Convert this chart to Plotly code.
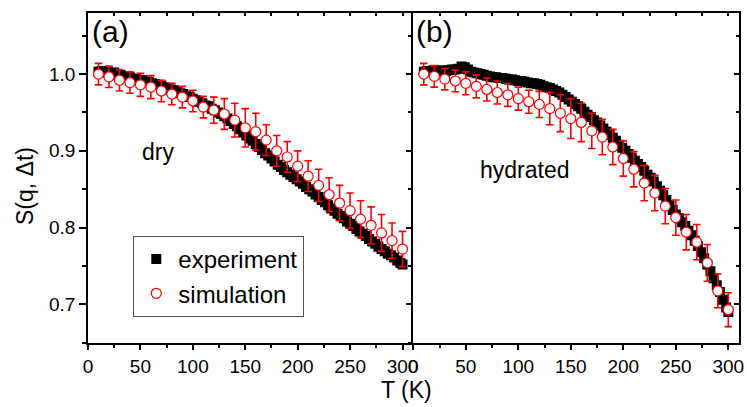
import plotly.graph_objects as go

# ---------------- data ----------------
T_exp = [10, 13, 16, 19, 22, 25, 28, 31, 34, 37, 40, 43, 46, 49, 52, 55, 58, 61, 64, 67,
         70, 73, 76, 79, 82, 85, 88, 91, 94, 97, 100, 103, 106, 109, 112, 115, 118, 121, 124, 127,
         130, 133, 136, 139, 142, 145, 148, 151, 154, 157, 160, 163, 166, 169, 172, 175, 178, 181, 184, 187,
         190, 193, 196, 199, 202, 205, 208, 211, 214, 217, 220, 223, 226, 229, 232, 235, 238, 241, 244, 247,
         250, 253, 256, 259, 262, 265, 268, 271, 274, 277, 280, 283, 286, 289, 292, 295, 298, 300]

exp_dry = [1.003, 1.004, 1.002, 1.003, 1.001, 1.002, 0.999, 0.999, 0.997, 0.997,
           0.996, 0.994, 0.994, 0.992, 0.992, 0.990, 0.990, 0.988, 0.987, 0.986,
           0.985, 0.983, 0.982, 0.980, 0.979, 0.977, 0.975, 0.974, 0.971, 0.970,
           0.968, 0.966, 0.964, 0.962, 0.959, 0.958, 0.955, 0.953, 0.950, 0.948,
           0.945, 0.942, 0.939, 0.935, 0.932, 0.928, 0.924, 0.920, 0.916, 0.913,
           0.909, 0.905, 0.901, 0.897, 0.894, 0.890, 0.886, 0.882, 0.879, 0.875,
           0.872, 0.869, 0.866, 0.863, 0.860, 0.857, 0.853, 0.850, 0.847, 0.843,
           0.840, 0.836, 0.833, 0.829, 0.825, 0.822, 0.818, 0.815, 0.812, 0.808,
           0.805, 0.802, 0.798, 0.795, 0.792, 0.789, 0.785, 0.782, 0.779, 0.775,
           0.772, 0.769, 0.766, 0.764, 0.761, 0.757, 0.754, 0.752]

exp_hyd = [1.003, 1.004, 1.003, 1.005, 1.004, 1.003, 1.005, 1.004, 1.005, 1.006,
           1.006, 1.007, 1.010, 1.009, 1.006, 1.003, 1.002, 1.001, 1.000, 0.999,
           0.998, 0.997, 0.996, 0.996, 0.995, 0.995, 0.994, 0.993, 0.993, 0.992,
           0.991, 0.991, 0.990, 0.989, 0.988, 0.988, 0.987, 0.986, 0.984, 0.983,
           0.982, 0.980, 0.978, 0.976, 0.973, 0.970, 0.967, 0.964, 0.961, 0.958,
           0.955, 0.951, 0.947, 0.944, 0.940, 0.937, 0.933, 0.929, 0.925, 0.921,
           0.917, 0.913, 0.908, 0.904, 0.900, 0.896, 0.891, 0.887, 0.883, 0.879,
           0.874, 0.869, 0.865, 0.860, 0.854, 0.848, 0.842, 0.836, 0.829, 0.823,
           0.817, 0.812, 0.807, 0.802, 0.796, 0.790, 0.783, 0.776, 0.768, 0.760,
           0.752, 0.743, 0.734, 0.725, 0.716, 0.706, 0.696, 0.690]

T_sim = [10, 20, 30, 40, 50, 60, 70, 80, 90, 100, 110, 120, 130, 140, 150,
         160, 170, 180, 190, 200, 210, 220, 230, 240, 250, 260, 270, 280, 290, 300]

sim_dry = [1.000, 0.9965, 0.992, 0.989, 0.986, 0.983, 0.978, 0.974, 0.970, 0.965,
           0.957, 0.953, 0.948, 0.940, 0.930, 0.925, 0.914, 0.900, 0.892, 0.880,
           0.867, 0.855, 0.843, 0.832, 0.822, 0.811, 0.803, 0.793, 0.783, 0.772]
err_dry = [0.014, 0.014, 0.014, 0.014, 0.015, 0.015, 0.014, 0.014, 0.014, 0.014,
           0.014, 0.017, 0.020, 0.022, 0.025, 0.024, 0.020, 0.020, 0.020, 0.020,
           0.020, 0.021, 0.022, 0.023, 0.023, 0.024, 0.024, 0.024, 0.023, 0.023]

sim_hyd = [1.000, 0.997, 0.9935, 0.991, 0.988, 0.984, 0.980, 0.976, 0.973, 0.968,
           0.964, 0.9605, 0.955, 0.949, 0.942, 0.937, 0.926, 0.918, 0.905, 0.890,
           0.876, 0.858, 0.845, 0.828, 0.813, 0.794, 0.781, 0.754, 0.7175, 0.693]
err_hyd = [0.014, 0.014, 0.014, 0.014, 0.015, 0.015, 0.015, 0.015, 0.015, 0.015,
           0.015, 0.017, 0.021, 0.024, 0.026, 0.025, 0.023, 0.023, 0.023, 0.023,
           0.023, 0.023, 0.023, 0.023, 0.023, 0.023, 0.023, 0.024, 0.022, 0.022]

x_ticks = [0, 50, 100, 150, 200, 250, 300]
y_ticks = [0.7, 0.8, 0.9, 1.0]

# ---------------- figure ----------------
W, H = 747, 407
FONT = "Liberation Sans, Arial, sans-serif"

def px(x):
    return x / W

def py(y):
    return 1 - y / H

fig = go.Figure()

sq = dict(symbol="square", size=10, color="black", line=dict(width=0))
circ = dict(symbol="circle", size=10, color="white", line=dict(color="red", width=1.2))
eb = lambda arr: dict(type="data", array=arr, color="red", thickness=1.6, width=3.8)

fig.add_trace(go.Scatter(x=T_exp, y=exp_dry, mode="markers", marker=sq, name="experiment",
                         xaxis="x", yaxis="y", showlegend=True))
fig.add_trace(go.Scatter(x=T_sim, y=sim_dry, mode="markers", marker=circ, error_y=eb(err_dry),
                         name="simulation", xaxis="x", yaxis="y", showlegend=True))
fig.add_trace(go.Scatter(x=T_exp, y=exp_hyd, mode="markers", marker=sq, name="experiment",
                         xaxis="x2", yaxis="y2", showlegend=False))
fig.add_trace(go.Scatter(x=T_sim, y=sim_hyd, mode="markers", marker=circ, error_y=eb(err_hyd),
                         name="simulation", xaxis="x2", yaxis="y2", showlegend=False))

# empty traces so overlay (mirror) axes get drawn
for xa, ya in [("x3", "y"), ("x4", "y2"), ("x2", "y4")]:
    fig.add_trace(go.Scatter(x=[], y=[], xaxis=xa, yaxis=ya, showlegend=False, hoverinfo="skip"))

xdomA = [px(88), px(413)]
xdomB = [px(413.3), px(738.8)]
ydom = [py(342.7), py(12.7)]
xr = [0, 310]
yr = [0.65, 1.08]

tickfont = dict(family=FONT, size=19, color="black")
base_line = dict(showline=True, linecolor="black", linewidth=1.5, showgrid=False, zeroline=False,
                 automargin=False)

def xaxis_main(domain, anchor):
    return dict(domain=domain, anchor=anchor, range=xr, tickmode="array", tickvals=x_ticks,
                ticks="outside", ticklen=6, tickwidth=1.5, tickcolor="black", tickfont=tickfont,
                minor=dict(dtick=25, tick0=0, ticks="outside", ticklen=3.5, tickwidth=1.5, tickcolor="black"),
                **base_line)

def xaxis_top(over, anchor):
    return dict(overlaying=over, anchor=anchor, side="top", range=xr, tickmode="array", tickvals=x_ticks,
                ticks="inside", ticklen=4, tickwidth=1.5, tickcolor="black", showticklabels=False,
                minor=dict(dtick=25, tick0=0, ticks="inside", ticklen=4, tickwidth=1.5, tickcolor="black"),
                **base_line)

fig.update_layout(
    template="none",
    width=W, height=H, autosize=False,
    margin=dict(l=0, r=0, t=0, b=0, pad=0),
    paper_bgcolor="white", plot_bgcolor="white",
    font=dict(family=FONT, color="black"),
    xaxis=xaxis_main(xdomA, "y"),
    xaxis2=xaxis_main(xdomB, "y2"),
    xaxis3=xaxis_top("x", "y"),
    xaxis4=xaxis_top("x2", "y2"),
    yaxis=dict(domain=ydom, anchor="x", range=yr, tickmode="array", tickvals=y_ticks,
               tickformat=".1f", ticks="outside", ticklen=7, tickwidth=1.5, tickcolor="black",
               tickfont=tickfont,
               minor=dict(dtick=0.05, tick0=0.0, ticks="outside", ticklen=4, tickwidth=1.5, tickcolor="black"),
               **base_line),
    yaxis2=dict(domain=ydom, anchor="x2", range=yr, tickmode="array", tickvals=y_ticks,
                ticks="outside", ticklen=6, tickwidth=1.5, tickcolor="black", showticklabels=False,
                minor=dict(dtick=0.05, tick0=0.0, ticks="outside", ticklen=3.5, tickwidth=1.5, tickcolor="black"),
                **base_line),
    yaxis4=dict(overlaying="y2", anchor="x2", side="right", range=yr, tickmode="array", tickvals=y_ticks,
                ticks="inside", ticklen=5, tickwidth=1.5, tickcolor="black", showticklabels=False,
                minor=dict(dtick=0.05, tick0=0.0, ticks="inside", ticklen=3, tickwidth=1.5, tickcolor="black"),
                **base_line),
    legend=dict(x=px(133.3), y=py(236), xanchor="left", yanchor="top",
                bgcolor="white", bordercolor="#555555", borderwidth=1,
                font=dict(family=FONT, size=24, color="black"),
                tracegroupgap=0, itemsizing="trace", itemwidth=34),
    showlegend=True,
)

ann = [
    dict(text="(a)", x=px(90), y=py(31), xanchor="left", yanchor="middle", font=dict(size=30)),
    dict(text="(b)", x=px(414), y=py(31), xanchor="left", yanchor="middle", font=dict(size=30)),
    dict(text="dry", x=px(158), y=py(152), xanchor="center", yanchor="middle", font=dict(size=23)),
    dict(text="hydrated", x=px(524.7), y=py(170), xanchor="center", yanchor="middle", font=dict(size=23)),
    dict(text="T (K)", x=px(406.5), y=py(390), xanchor="center", yanchor="middle", font=dict(size=23)),
    dict(text="S(q, Δt)", x=px(25), y=py(186), xanchor="center", yanchor="middle", textangle=-90,
         font=dict(size=23)),
]
for a in ann:
    a.update(xref="paper", yref="paper", showarrow=False)
    a["font"] = dict(family=FONT, color="black", size=a["font"]["size"])
fig.update_layout(annotations=ann)

fig.write_html("out.html",
               config={"displayModeBar": False},
               post_script="document.body.style.margin='0';document.body.style.padding='0';"
                           "document.body.style.overflow='hidden';")
